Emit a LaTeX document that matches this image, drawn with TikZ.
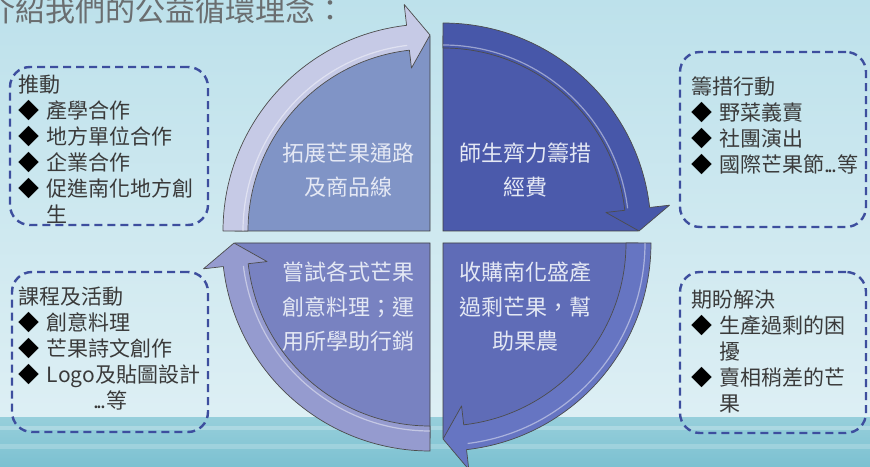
\documentclass[tikz,border=0pt]{standalone}
\usepackage{fontspec}
\setmainfont{Noto Sans CJK TC}
\usetikzlibrary{calc}

\definecolor{skytop}{HTML}{BDE1EB}
\definecolor{skylow}{HTML}{DDEFF4}
\definecolor{seatop}{HTML}{97CFDB}
\definecolor{seabot}{HTML}{7CC1D1}
\definecolor{quadtl}{HTML}{8094C6}
\definecolor{quadtr}{HTML}{4B5AAB}
\definecolor{quadbr}{HTML}{5F6CB7}
\definecolor{quadbl}{HTML}{7882C1}
\definecolor{arrtl}{HTML}{C6CAE6}
\definecolor{arrtr}{HTML}{4757A9}
\definecolor{arrbr}{HTML}{6675C2}
\definecolor{arrbl}{HTML}{959BCF}
\definecolor{boxline}{HTML}{3D4E9E}
\definecolor{textgray}{HTML}{3A3A3A}
\definecolor{titlegray}{HTML}{6A6E70}
\definecolor{quadtext}{HTML}{E4E8F4}

\newcommand{\diam}{\makebox[28pt][l]{\color{black}◆}}
\newcommand{\tightdots}{.\kern-2pt.\kern-2pt.}

\tikzset{
  quad/.style={draw=black!75, line width=0.8pt},
  cyclearrow/.style={draw=black!70, line width=0.7pt, line join=round},
  arrowshine/.style={draw=white, opacity=0.45, line width=1.2pt},
  notebox/.style={draw=boxline, line width=2.4pt, dash pattern=on 8pt off 5pt, rounded corners=20pt},
  notetext/.style={anchor=north west, inner sep=0pt, align=left, text=textgray, font=\fontsize{21}{26}\selectfont},
  quadlabel/.style={inner sep=0pt, align=center, text=quadtext, font=\fontsize{22}{34.5}\selectfont}
}

\begin{document}
\begin{tikzpicture}[x=1pt, y=1pt]
    \useasboundingbox (0,0) rectangle (870,466);

    % sky and sea
    \shade[top color=skytop, bottom color=skylow] (0,49) rectangle (870,466);
    \shade[top color=seatop, bottom color=seabot] (0,0) rectangle (870,49);
    \fill[white, opacity=0.25] (0,36) rectangle (870,40);
    \fill[white, opacity=0.2] (0,17) rectangle (870,22);

    % title
    \node[anchor=west, inner sep=0pt, text=titlegray, font=\fontsize{30}{30}\selectfont] (title) at (-15,456) {介紹我們的公益循環理念：};

    % quadrant corners
    \coordinate (ctl) at (430,235);
    \coordinate (ctr) at (443,235);
    \coordinate (cbl) at (430,223);
    \coordinate (cbr) at (443,223);

    % quadrants
    \draw[quad, fill=quadtl] (ctl) -- ($(ctl)+(180:195)$) arc[start angle=180, end angle=90, radius=195] -- cycle;
    \draw[quad, fill=quadtr] (ctr) -- ($(ctr)+(90:195)$) arc[start angle=90, end angle=0, radius=195] -- cycle;
    \draw[quad, fill=quadbr] (cbr) -- ($(cbr)+(0:195)$) arc[start angle=0, end angle=-90, radius=195] -- cycle;
    \draw[quad, fill=quadbl] (cbl) -- ($(cbl)+(270:195)$) arc[start angle=270, end angle=180, radius=195] -- cycle;

    % arrows, clockwise
    \draw[cyclearrow, fill=arrtl] ($(ctl)+(180:207)$) arc[start angle=180, end angle=96.5, radius=207]
        -- ($(ctl)+(96.5:228)$) -- ($(ctl)+(90:196)$) -- ($(ctl)+(96.5:164)$) -- ($(ctl)+(96.5:182)$)
        arc[start angle=96.5, end angle=180, radius=182] -- cycle;
    \draw[arrowshine] ($(ctl)+(180:187)$) arc[start angle=180, end angle=97, radius=187];

    \draw[cyclearrow, fill=arrtr] ($(ctr)+(90:208)$) arc[start angle=90, end angle=6.5, radius=208]
        -- ($(ctr)+(6.5:228)$) -- ($(ctr)+(0:196)$) -- ($(ctr)+(6.5:164)$) -- ($(ctr)+(6.5:183)$)
        arc[start angle=6.5, end angle=90, radius=183] -- cycle;
    \draw[arrowshine] ($(ctr)+(90:186)$) arc[start angle=90, end angle=7, radius=186];

    \draw[cyclearrow, fill=arrbr] ($(cbr)+(0:208)$) arc[start angle=0, end angle=-83.5, radius=208]
        -- ($(cbr)+(-83.5:228)$) -- ($(cbr)+(-90:196)$) -- ($(cbr)+(-83.5:164)$) -- ($(cbr)+(-83.5:183)$)
        arc[start angle=-83.5, end angle=0, radius=183] -- cycle;
    \draw[arrowshine] ($(cbr)+(0:202)$) arc[start angle=0, end angle=-83, radius=202];

    \draw[cyclearrow, fill=arrbl] ($(cbl)+(270:208)$) arc[start angle=270, end angle=186.5, radius=208]
        -- ($(cbl)+(186.5:228)$) -- ($(cbl)+(180:196)$) -- ($(cbl)+(186.5:164)$) -- ($(cbl)+(186.5:183)$)
        arc[start angle=186.5, end angle=270, radius=183] -- cycle;
    \draw[arrowshine] ($(cbl)+(270:188)$) arc[start angle=270, end angle=187, radius=188];

    % quadrant texts
    \node[quadlabel] (expand) at (348,296) {拓展芒果通路\\及商品線};
    \node[quadlabel] (funds) at (525,296) {師生齊力籌措\\經費};
    \node[quadlabel] (buy) at (525,159) {收購南化盛產\\過剩芒果，幫\\助果農};
    \node[quadlabel] (cook) at (348,159) {嘗試各式芒果\\創意料理；運\\用所學助行銷};

    % dashed note boxes
    \node[notebox, minimum width=198pt, minimum height=158pt] (push) at (109,320) {};
    \node[notebox, minimum width=196pt, minimum height=160pt] (course) at (110,114) {};
    \node[notebox, minimum width=186pt, minimum height=175pt] (raise) at (773,326.5) {};
    \node[notebox, minimum width=186pt, minimum height=161pt] (hope) at (773,113.5) {};

    \node[notetext] (pushtext) at ($(push.north west)+(10,-8.5)$)
        {推動\\\diam 產學合作\\\diam 地方單位合作\\\diam 企業合作\\\diam 促進南化地方創\\\hspace*{28pt}生};
    \node[notetext] (coursetext) at ($(course.north west)+(8,-15.5)$)
        {課程及活動\\\diam 創意料理\\\diam 芒果詩文創作\\\diam Logo及貼圖設計\\\hspace*{74pt}\tightdots 等};
    \node[notetext] (raisetext) at ($(raise.north west)+(12,-25.5)$)
        {籌措行動\\\diam 野菜義賣\\\diam 社團演出\\\diam 國際芒果節\tightdots 等};
    \node[notetext] (hopetext) at ($(hope.north west)+(12,-18.5)$)
        {期盼解決\\\diam 生產過剩的困\\\hspace*{28pt}擾\\\diam 賣相稍差的芒\\\hspace*{28pt}果};

\end{tikzpicture}
\end{document}
